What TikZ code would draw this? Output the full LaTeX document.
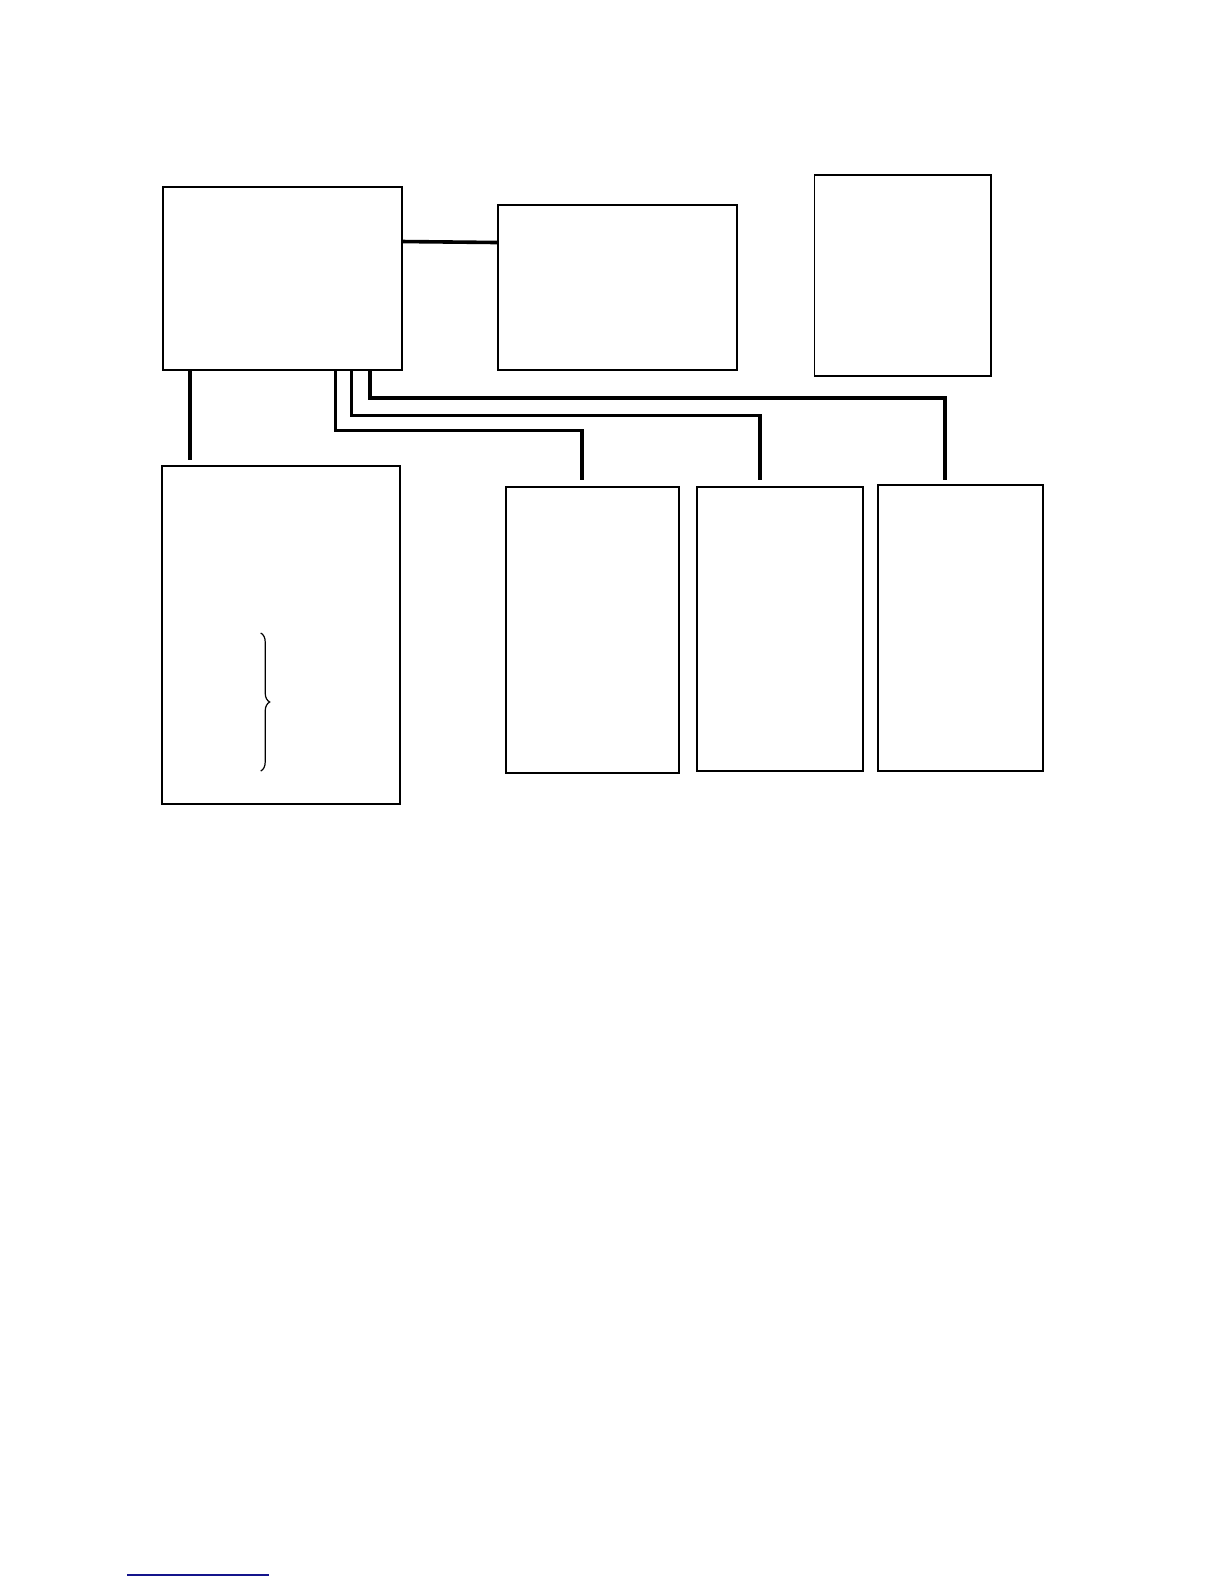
\documentclass[tikz,border=0pt]{standalone}
\usetikzlibrary{decorations.pathreplacing}
\definecolor{footblue}{RGB}{20,20,140}
\begin{document}
\begin{tikzpicture}[x=1.0105bp,y=-1.0105bp,
  box/.style={draw, line width=1.9bp, inner sep=0pt, outer sep=0pt},
  conn/.style={draw, line width=3.6bp, line cap=butt, line join=miter}]
\useasboundingbox (0,0) rectangle (1211.3,1567.5);
% boxes (sizes scaled to match the coordinate units)
\node[box, minimum width=239.5bp, minimum height=182.9bp] (A) at (279.5,275.5) {};
\node[box, minimum width=238.5bp, minimum height=164.7bp] (B) at (611,284.5) {};
\node[box, minimum width=176.8bp, minimum height=201.1bp] (C) at (893.5,272.5) {};
\node[box, minimum width=238.5bp, minimum height=338.5bp] (D) at (278,628.5) {};
\node[box, minimum width=172.8bp, minimum height=286bp] (E) at (586.5,623.5) {};
\node[box, minimum width=165.7bp, minimum height=284bp] (F) at (772,622.5) {};
\node[box, minimum width=164.7bp, minimum height=286bp] (G) at (950.5,621.5) {};
% free ends
\coordinate (dEnd) at (188,455);
\coordinate (eEnd) at (576,475);
\coordinate (fEnd) at (752,475);
\coordinate (gEnd) at (935,475);
% connectors
\draw[conn] (A.east |- 0,239) -- (B.west |- 0,240);
\draw[conn] (A.south -| dEnd) -- (dEnd);
\draw[conn] (A.south -| 332,0) |- (576,426) -- (eEnd);
\draw[conn] (A.south -| 348,0) |- (752,411) -- (fEnd);
\draw[conn] (A.south -| 366,0) |- (935,394) -- (gEnd);
% brace
\draw[line width=1.2bp, decorate, decoration={brace, amplitude=9bp}] (258,626.4) -- (258,763);
% footnote rule
\draw[footblue, line width=1.6bp] (125.7,1558.6) -- (266.2,1558.6);
\end{tikzpicture}
\end{document}
